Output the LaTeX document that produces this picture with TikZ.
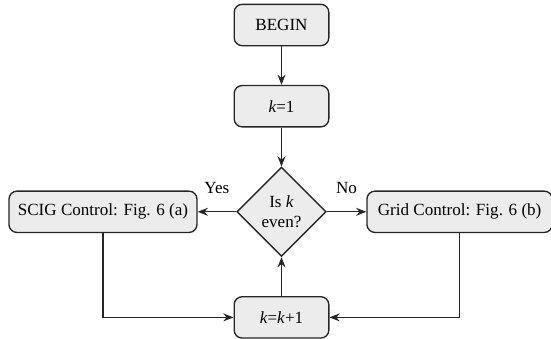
\documentclass[tikz,border=0pt]{standalone}
\usepackage{fontspec}
\setmainfont{Liberation Serif}
\usetikzlibrary{arrows.meta,positioning,shapes.geometric}
\tikzset{
  >={Stealth[length=2.7mm,width=2.1mm,inset=0.9mm]},
  block/.style={draw=black!85, line width=1pt, rounded corners=6pt, fill=gray!15, minimum width=71pt, minimum height=31pt, align=center, inner sep=2pt},
  wideblock/.style={block, minimum width=141pt},
  decision/.style={draw=black!85, line width=1pt, diamond, aspect=1, fill=gray!15, minimum size=67pt, inner sep=0pt, align=center},
  flow/.style={->, line width=1pt, draw=black!85},
  answer/.style={above=12pt, inner sep=1pt},
}

\begin{document}
\begin{tikzpicture}[x=0.75pt, y=-0.75pt, node distance=29pt, font=\fontsize{12.8}{15.5}\selectfont]
  \useasboundingbox (0,0) rectangle (551,339);
  \node[block] (begin) at (281.5,25) {BEGIN};
  \node[block, below=28.9pt of begin] (kone) {\textit{k}=1};
  \node[decision, below=29.2pt of kone] (even) {Is \textit{k}\\even?};
  \node[wideblock, left=28.9pt of even] (scig) {SCIG Control: Fig. 6 (a)};
  \node[wideblock, minimum width=139pt, right=29.6pt of even] (grid) {Grid Control: Fig. 6 (b)};
  \node[block, below=29.2pt of even] (knext) {\textit{k}=\textit{k}+1};
  \draw[flow] (begin) -- (kone);
  \draw[flow] (kone) -- (even);
  \draw[flow] (even) -- node[answer] {Yes} (scig);
  \draw[flow] (even) -- node[answer] {No} (grid);
  \draw[flow] (scig.south) |- (knext.west);
  \draw[flow] (grid.south) |- (knext.east);
  \draw[flow] (knext) -- (even);
\end{tikzpicture}
\end{document}
